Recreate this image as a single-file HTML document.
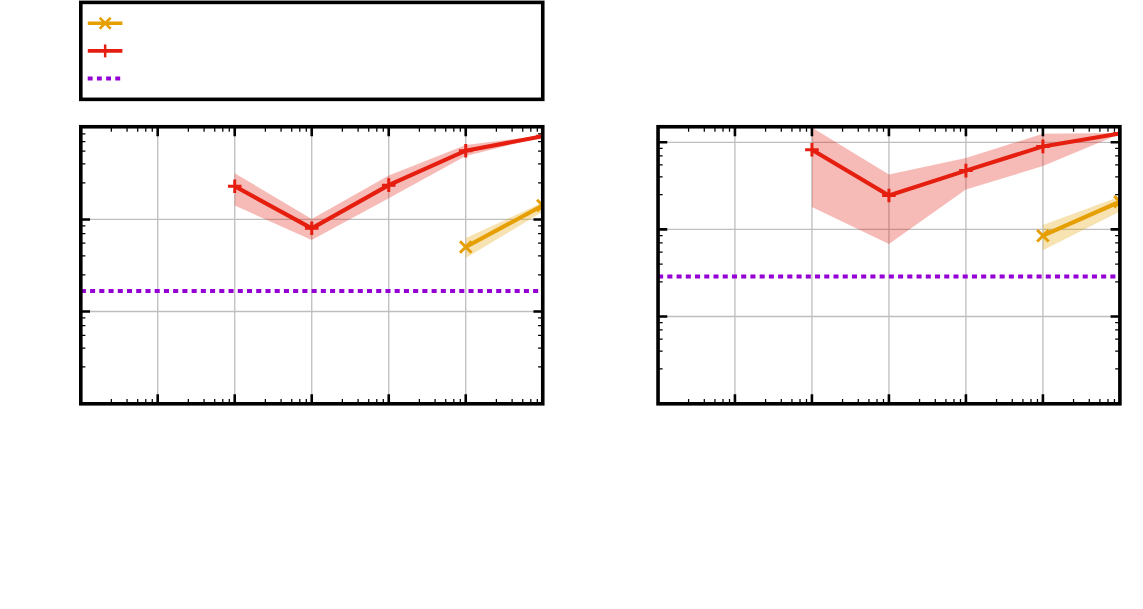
<!DOCTYPE html>
<html><head><meta charset="utf-8"><title>chart</title>
<style>html,body{margin:0;padding:0;background:#fff;font-family:"Liberation Sans",sans-serif;}svg{display:block}</style>
</head><body>
<svg width="1143" height="609" viewBox="0 0 1143 609">
<rect width="1143" height="609" fill="#fff"/>
<rect x="80.8" y="2.4" width="461.95" height="96.95" fill="#fff" stroke="#000" stroke-width="3.6"/>
<line x1="87.8" y1="23.2" x2="122.4" y2="23.2" stroke="#e69f00" stroke-width="3.6"/>
<path d="M99.65 17.75L110.65 28.75M99.65 28.75L110.65 17.75" stroke="#e69f00" stroke-width="2.5" fill="none"/>
<line x1="87.8" y1="50.9" x2="122.4" y2="50.9" stroke="#e51e10" stroke-width="3.7"/>
<path d="M105.15 44.449999999999996V57.35" stroke="#e51e10" stroke-width="2.5" fill="none"/>
<line x1="87.7" y1="78.5" x2="122.4" y2="78.5" stroke="#9400d3" stroke-width="4" stroke-dasharray="4.9 4.3"/>
<clipPath id="c80"><rect x="80.7" y="127.0" width="462.05" height="276.6"/></clipPath>
<line x1="157.71" y1="127.0" x2="157.71" y2="403.6" stroke="#bebebe" stroke-width="1.3"/>
<line x1="234.72" y1="127.0" x2="234.72" y2="403.6" stroke="#bebebe" stroke-width="1.3"/>
<line x1="311.73" y1="127.0" x2="311.73" y2="403.6" stroke="#bebebe" stroke-width="1.3"/>
<line x1="388.73" y1="127.0" x2="388.73" y2="403.6" stroke="#bebebe" stroke-width="1.3"/>
<line x1="465.74" y1="127.0" x2="465.74" y2="403.6" stroke="#bebebe" stroke-width="1.3"/>
<line x1="80.7" y1="219.45" x2="542.75" y2="219.45" stroke="#bebebe" stroke-width="1.3"/>
<line x1="80.7" y1="311.50" x2="542.75" y2="311.50" stroke="#bebebe" stroke-width="1.3"/>
<g clip-path="url(#c80)">
<polygon points="234.72,173.20 311.73,218.90 388.73,175.40 465.74,145.00 542.75,135.60 542.75,137.00 465.74,156.10 388.73,198.20 311.73,240.00 234.72,205.50" fill="#e51e10" fill-opacity="0.3"/>
<polygon points="465.74,238.10 542.75,202.60 542.75,211.80 465.74,258.00" fill="#e69f00" fill-opacity="0.3"/>
<line x1="80.85000000000001" y1="291" x2="542.75" y2="291" stroke="#9400d3" stroke-width="4" stroke-dasharray="5.05 4.18"/>
<polyline points="465.74,247.00 542.75,205.50" fill="none" stroke="#e69f00" stroke-width="4.1" stroke-linejoin="miter"/>
<path d="M459.99 241.25L471.49 252.75M459.99 252.75L471.49 241.25" stroke="#e69f00" stroke-width="3.0" fill="none"/>
<path d="M537.00 199.75L548.50 211.25M537.00 211.25L548.50 199.75" stroke="#e69f00" stroke-width="3.0" fill="none"/>
<polyline points="234.72,186.30 311.73,228.30 388.73,185.15 465.74,150.70 542.75,136.25" fill="none" stroke="#e51e10" stroke-width="4.1" stroke-linejoin="miter"/>
<path d="M227.92 186.30H241.52M234.72 179.50V193.10" stroke="#e51e10" stroke-width="3.0" fill="none"/>
<path d="M304.93 228.30H318.53M311.73 221.50V235.10" stroke="#e51e10" stroke-width="3.0" fill="none"/>
<path d="M381.93 185.15H395.53M388.73 178.35V191.95" stroke="#e51e10" stroke-width="3.0" fill="none"/>
<path d="M458.94 150.70H472.54M465.74 143.90V157.50" stroke="#e51e10" stroke-width="3.0" fill="none"/>
<path d="M535.95 136.25H549.55M542.75 129.45V143.05" stroke="#e51e10" stroke-width="3.0" fill="none"/>
</g>
<path d="M111.34 127.0v4.7M111.34 403.6v-4.7" stroke="#000" stroke-width="1.25"/>
<path d="M127.06 127.0v4.7M127.06 403.6v-4.7" stroke="#000" stroke-width="1.25"/>
<path d="M137.71 127.0v4.7M137.71 403.6v-4.7" stroke="#000" stroke-width="1.25"/>
<path d="M145.78 127.0v4.7M145.78 403.6v-4.7" stroke="#000" stroke-width="1.25"/>
<path d="M152.27 127.0v4.7M152.27 403.6v-4.7" stroke="#000" stroke-width="1.25"/>
<path d="M157.71 127.0v9.3M157.71 403.6v-9.3" stroke="#000" stroke-width="2.6"/>
<path d="M188.35 127.0v4.7M188.35 403.6v-4.7" stroke="#000" stroke-width="1.25"/>
<path d="M204.07 127.0v4.7M204.07 403.6v-4.7" stroke="#000" stroke-width="1.25"/>
<path d="M214.72 127.0v4.7M214.72 403.6v-4.7" stroke="#000" stroke-width="1.25"/>
<path d="M222.79 127.0v4.7M222.79 403.6v-4.7" stroke="#000" stroke-width="1.25"/>
<path d="M229.28 127.0v4.7M229.28 403.6v-4.7" stroke="#000" stroke-width="1.25"/>
<path d="M234.72 127.0v9.3M234.72 403.6v-9.3" stroke="#000" stroke-width="2.6"/>
<path d="M265.36 127.0v4.7M265.36 403.6v-4.7" stroke="#000" stroke-width="1.25"/>
<path d="M281.08 127.0v4.7M281.08 403.6v-4.7" stroke="#000" stroke-width="1.25"/>
<path d="M291.73 127.0v4.7M291.73 403.6v-4.7" stroke="#000" stroke-width="1.25"/>
<path d="M299.80 127.0v4.7M299.80 403.6v-4.7" stroke="#000" stroke-width="1.25"/>
<path d="M306.29 127.0v4.7M306.29 403.6v-4.7" stroke="#000" stroke-width="1.25"/>
<path d="M311.73 127.0v9.3M311.73 403.6v-9.3" stroke="#000" stroke-width="2.6"/>
<path d="M342.37 127.0v4.7M342.37 403.6v-4.7" stroke="#000" stroke-width="1.25"/>
<path d="M358.09 127.0v4.7M358.09 403.6v-4.7" stroke="#000" stroke-width="1.25"/>
<path d="M368.74 127.0v4.7M368.74 403.6v-4.7" stroke="#000" stroke-width="1.25"/>
<path d="M376.80 127.0v4.7M376.80 403.6v-4.7" stroke="#000" stroke-width="1.25"/>
<path d="M383.30 127.0v4.7M383.30 403.6v-4.7" stroke="#000" stroke-width="1.25"/>
<path d="M388.73 127.0v9.3M388.73 403.6v-9.3" stroke="#000" stroke-width="2.6"/>
<path d="M419.38 127.0v4.7M419.38 403.6v-4.7" stroke="#000" stroke-width="1.25"/>
<path d="M435.10 127.0v4.7M435.10 403.6v-4.7" stroke="#000" stroke-width="1.25"/>
<path d="M445.75 127.0v4.7M445.75 403.6v-4.7" stroke="#000" stroke-width="1.25"/>
<path d="M453.81 127.0v4.7M453.81 403.6v-4.7" stroke="#000" stroke-width="1.25"/>
<path d="M460.31 127.0v4.7M460.31 403.6v-4.7" stroke="#000" stroke-width="1.25"/>
<path d="M465.74 127.0v9.3M465.74 403.6v-9.3" stroke="#000" stroke-width="2.6"/>
<path d="M496.39 127.0v4.7M496.39 403.6v-4.7" stroke="#000" stroke-width="1.25"/>
<path d="M512.11 127.0v4.7M512.11 403.6v-4.7" stroke="#000" stroke-width="1.25"/>
<path d="M522.76 127.0v4.7M522.76 403.6v-4.7" stroke="#000" stroke-width="1.25"/>
<path d="M530.82 127.0v4.7M530.82 403.6v-4.7" stroke="#000" stroke-width="1.25"/>
<path d="M537.31 127.0v4.7M537.31 403.6v-4.7" stroke="#000" stroke-width="1.25"/>
<path d="M80.7 219.45h9.3M542.75 219.45h-9.3" stroke="#000" stroke-width="2.6"/>
<path d="M80.7 311.50h9.3M542.75 311.50h-9.3" stroke="#000" stroke-width="2.6"/>
<path d="M80.7 182.76h4.7M542.75 182.76h-4.7" stroke="#000" stroke-width="1.25"/>
<path d="M80.7 163.94h4.7M542.75 163.94h-4.7" stroke="#000" stroke-width="1.25"/>
<path d="M80.7 151.19h4.7M542.75 151.19h-4.7" stroke="#000" stroke-width="1.25"/>
<path d="M80.7 141.53h4.7M542.75 141.53h-4.7" stroke="#000" stroke-width="1.25"/>
<path d="M80.7 133.76h4.7M542.75 133.76h-4.7" stroke="#000" stroke-width="1.25"/>
<path d="M80.7 274.81h4.7M542.75 274.81h-4.7" stroke="#000" stroke-width="1.25"/>
<path d="M80.7 255.99h4.7M542.75 255.99h-4.7" stroke="#000" stroke-width="1.25"/>
<path d="M80.7 243.24h4.7M542.75 243.24h-4.7" stroke="#000" stroke-width="1.25"/>
<path d="M80.7 233.58h4.7M542.75 233.58h-4.7" stroke="#000" stroke-width="1.25"/>
<path d="M80.7 225.81h4.7M542.75 225.81h-4.7" stroke="#000" stroke-width="1.25"/>
<path d="M80.7 366.91h4.7M542.75 366.91h-4.7" stroke="#000" stroke-width="1.25"/>
<path d="M80.7 348.09h4.7M542.75 348.09h-4.7" stroke="#000" stroke-width="1.25"/>
<path d="M80.7 335.34h4.7M542.75 335.34h-4.7" stroke="#000" stroke-width="1.25"/>
<path d="M80.7 325.68h4.7M542.75 325.68h-4.7" stroke="#000" stroke-width="1.25"/>
<path d="M80.7 317.91h4.7M542.75 317.91h-4.7" stroke="#000" stroke-width="1.25"/>
<rect x="80.8" y="126.75" width="461.95" height="277.05" fill="none" stroke="#000" stroke-width="3.6"/>
<clipPath id="c657"><rect x="657.95" y="127.0" width="461.95000000000005" height="276.6"/></clipPath>
<line x1="734.94" y1="127.0" x2="734.94" y2="403.6" stroke="#bebebe" stroke-width="1.3"/>
<line x1="811.93" y1="127.0" x2="811.93" y2="403.6" stroke="#bebebe" stroke-width="1.3"/>
<line x1="888.93" y1="127.0" x2="888.93" y2="403.6" stroke="#bebebe" stroke-width="1.3"/>
<line x1="965.92" y1="127.0" x2="965.92" y2="403.6" stroke="#bebebe" stroke-width="1.3"/>
<line x1="1042.91" y1="127.0" x2="1042.91" y2="403.6" stroke="#bebebe" stroke-width="1.3"/>
<line x1="657.95" y1="142.30" x2="1119.9" y2="142.30" stroke="#bebebe" stroke-width="1.3"/>
<line x1="657.95" y1="229.40" x2="1119.9" y2="229.40" stroke="#bebebe" stroke-width="1.3"/>
<line x1="657.95" y1="316.50" x2="1119.9" y2="316.50" stroke="#bebebe" stroke-width="1.3"/>
<g clip-path="url(#c657)">
<polygon points="811.93,127.40 888.93,174.50 965.92,157.90 1042.91,133.80 1119.90,133.00 1119.90,133.90 1042.91,166.10 965.92,189.40 888.93,244.10 811.93,206.90" fill="#e51e10" fill-opacity="0.3"/>
<polygon points="1042.91,225.10 1119.90,196.50 1119.90,211.40 1042.91,250.30" fill="#e69f00" fill-opacity="0.3"/>
<line x1="658.1" y1="276.4" x2="1119.9" y2="276.4" stroke="#9400d3" stroke-width="4" stroke-dasharray="5.05 4.18"/>
<polyline points="1042.91,235.70 1119.90,201.70" fill="none" stroke="#e69f00" stroke-width="4.1" stroke-linejoin="miter"/>
<path d="M1037.16 229.95L1048.66 241.45M1037.16 241.45L1048.66 229.95" stroke="#e69f00" stroke-width="3.0" fill="none"/>
<path d="M1114.15 195.95L1125.65 207.45M1114.15 207.45L1125.65 195.95" stroke="#e69f00" stroke-width="3.0" fill="none"/>
<polyline points="811.93,149.70 888.93,195.50 965.92,170.60 1042.91,146.40 1119.90,133.40" fill="none" stroke="#e51e10" stroke-width="4.1" stroke-linejoin="miter"/>
<path d="M805.13 149.70H818.73M811.93 142.90V156.50" stroke="#e51e10" stroke-width="3.0" fill="none"/>
<path d="M882.13 195.50H895.73M888.93 188.70V202.30" stroke="#e51e10" stroke-width="3.0" fill="none"/>
<path d="M959.12 170.60H972.72M965.92 163.80V177.40" stroke="#e51e10" stroke-width="3.0" fill="none"/>
<path d="M1036.11 146.40H1049.71M1042.91 139.60V153.20" stroke="#e51e10" stroke-width="3.0" fill="none"/>
<path d="M1113.10 133.40H1126.70M1119.90 126.60V140.20" stroke="#e51e10" stroke-width="3.0" fill="none"/>
</g>
<path d="M688.59 127.0v4.7M688.59 403.6v-4.7" stroke="#000" stroke-width="1.25"/>
<path d="M704.30 127.0v4.7M704.30 403.6v-4.7" stroke="#000" stroke-width="1.25"/>
<path d="M714.95 127.0v4.7M714.95 403.6v-4.7" stroke="#000" stroke-width="1.25"/>
<path d="M723.02 127.0v4.7M723.02 403.6v-4.7" stroke="#000" stroke-width="1.25"/>
<path d="M729.51 127.0v4.7M729.51 403.6v-4.7" stroke="#000" stroke-width="1.25"/>
<path d="M734.94 127.0v9.3M734.94 403.6v-9.3" stroke="#000" stroke-width="2.6"/>
<path d="M765.58 127.0v4.7M765.58 403.6v-4.7" stroke="#000" stroke-width="1.25"/>
<path d="M781.30 127.0v4.7M781.30 403.6v-4.7" stroke="#000" stroke-width="1.25"/>
<path d="M791.94 127.0v4.7M791.94 403.6v-4.7" stroke="#000" stroke-width="1.25"/>
<path d="M800.01 127.0v4.7M800.01 403.6v-4.7" stroke="#000" stroke-width="1.25"/>
<path d="M806.50 127.0v4.7M806.50 403.6v-4.7" stroke="#000" stroke-width="1.25"/>
<path d="M811.93 127.0v9.3M811.93 403.6v-9.3" stroke="#000" stroke-width="2.6"/>
<path d="M842.57 127.0v4.7M842.57 403.6v-4.7" stroke="#000" stroke-width="1.25"/>
<path d="M858.29 127.0v4.7M858.29 403.6v-4.7" stroke="#000" stroke-width="1.25"/>
<path d="M868.94 127.0v4.7M868.94 403.6v-4.7" stroke="#000" stroke-width="1.25"/>
<path d="M877.00 127.0v4.7M877.00 403.6v-4.7" stroke="#000" stroke-width="1.25"/>
<path d="M883.49 127.0v4.7M883.49 403.6v-4.7" stroke="#000" stroke-width="1.25"/>
<path d="M888.93 127.0v9.3M888.93 403.6v-9.3" stroke="#000" stroke-width="2.6"/>
<path d="M919.56 127.0v4.7M919.56 403.6v-4.7" stroke="#000" stroke-width="1.25"/>
<path d="M935.28 127.0v4.7M935.28 403.6v-4.7" stroke="#000" stroke-width="1.25"/>
<path d="M945.93 127.0v4.7M945.93 403.6v-4.7" stroke="#000" stroke-width="1.25"/>
<path d="M953.99 127.0v4.7M953.99 403.6v-4.7" stroke="#000" stroke-width="1.25"/>
<path d="M960.48 127.0v4.7M960.48 403.6v-4.7" stroke="#000" stroke-width="1.25"/>
<path d="M965.92 127.0v9.3M965.92 403.6v-9.3" stroke="#000" stroke-width="2.6"/>
<path d="M996.55 127.0v4.7M996.55 403.6v-4.7" stroke="#000" stroke-width="1.25"/>
<path d="M1012.27 127.0v4.7M1012.27 403.6v-4.7" stroke="#000" stroke-width="1.25"/>
<path d="M1022.92 127.0v4.7M1022.92 403.6v-4.7" stroke="#000" stroke-width="1.25"/>
<path d="M1030.98 127.0v4.7M1030.98 403.6v-4.7" stroke="#000" stroke-width="1.25"/>
<path d="M1037.47 127.0v4.7M1037.47 403.6v-4.7" stroke="#000" stroke-width="1.25"/>
<path d="M1042.91 127.0v9.3M1042.91 403.6v-9.3" stroke="#000" stroke-width="2.6"/>
<path d="M1073.55 127.0v4.7M1073.55 403.6v-4.7" stroke="#000" stroke-width="1.25"/>
<path d="M1089.26 127.0v4.7M1089.26 403.6v-4.7" stroke="#000" stroke-width="1.25"/>
<path d="M1099.91 127.0v4.7M1099.91 403.6v-4.7" stroke="#000" stroke-width="1.25"/>
<path d="M1107.97 127.0v4.7M1107.97 403.6v-4.7" stroke="#000" stroke-width="1.25"/>
<path d="M1114.47 127.0v4.7M1114.47 403.6v-4.7" stroke="#000" stroke-width="1.25"/>
<path d="M657.95 142.30h9.3M1119.9 142.30h-9.3" stroke="#000" stroke-width="2.6"/>
<path d="M657.95 229.40h9.3M1119.9 229.40h-9.3" stroke="#000" stroke-width="2.6"/>
<path d="M657.95 316.50h9.3M1119.9 316.50h-9.3" stroke="#000" stroke-width="2.6"/>
<path d="M657.95 194.74h4.7M1119.9 194.74h-4.7" stroke="#000" stroke-width="1.25"/>
<path d="M657.95 176.96h4.7M1119.9 176.96h-4.7" stroke="#000" stroke-width="1.25"/>
<path d="M657.95 164.91h4.7M1119.9 164.91h-4.7" stroke="#000" stroke-width="1.25"/>
<path d="M657.95 155.79h4.7M1119.9 155.79h-4.7" stroke="#000" stroke-width="1.25"/>
<path d="M657.95 148.45h4.7M1119.9 148.45h-4.7" stroke="#000" stroke-width="1.25"/>
<path d="M657.95 281.84h4.7M1119.9 281.84h-4.7" stroke="#000" stroke-width="1.25"/>
<path d="M657.95 264.06h4.7M1119.9 264.06h-4.7" stroke="#000" stroke-width="1.25"/>
<path d="M657.95 252.01h4.7M1119.9 252.01h-4.7" stroke="#000" stroke-width="1.25"/>
<path d="M657.95 242.89h4.7M1119.9 242.89h-4.7" stroke="#000" stroke-width="1.25"/>
<path d="M657.95 235.55h4.7M1119.9 235.55h-4.7" stroke="#000" stroke-width="1.25"/>
<path d="M657.95 368.94h4.7M1119.9 368.94h-4.7" stroke="#000" stroke-width="1.25"/>
<path d="M657.95 351.16h4.7M1119.9 351.16h-4.7" stroke="#000" stroke-width="1.25"/>
<path d="M657.95 339.11h4.7M1119.9 339.11h-4.7" stroke="#000" stroke-width="1.25"/>
<path d="M657.95 329.99h4.7M1119.9 329.99h-4.7" stroke="#000" stroke-width="1.25"/>
<path d="M657.95 322.65h4.7M1119.9 322.65h-4.7" stroke="#000" stroke-width="1.25"/>
<rect x="658.0500000000001" y="126.75" width="461.85" height="277.05" fill="none" stroke="#000" stroke-width="3.6"/>
</svg></body></html>
